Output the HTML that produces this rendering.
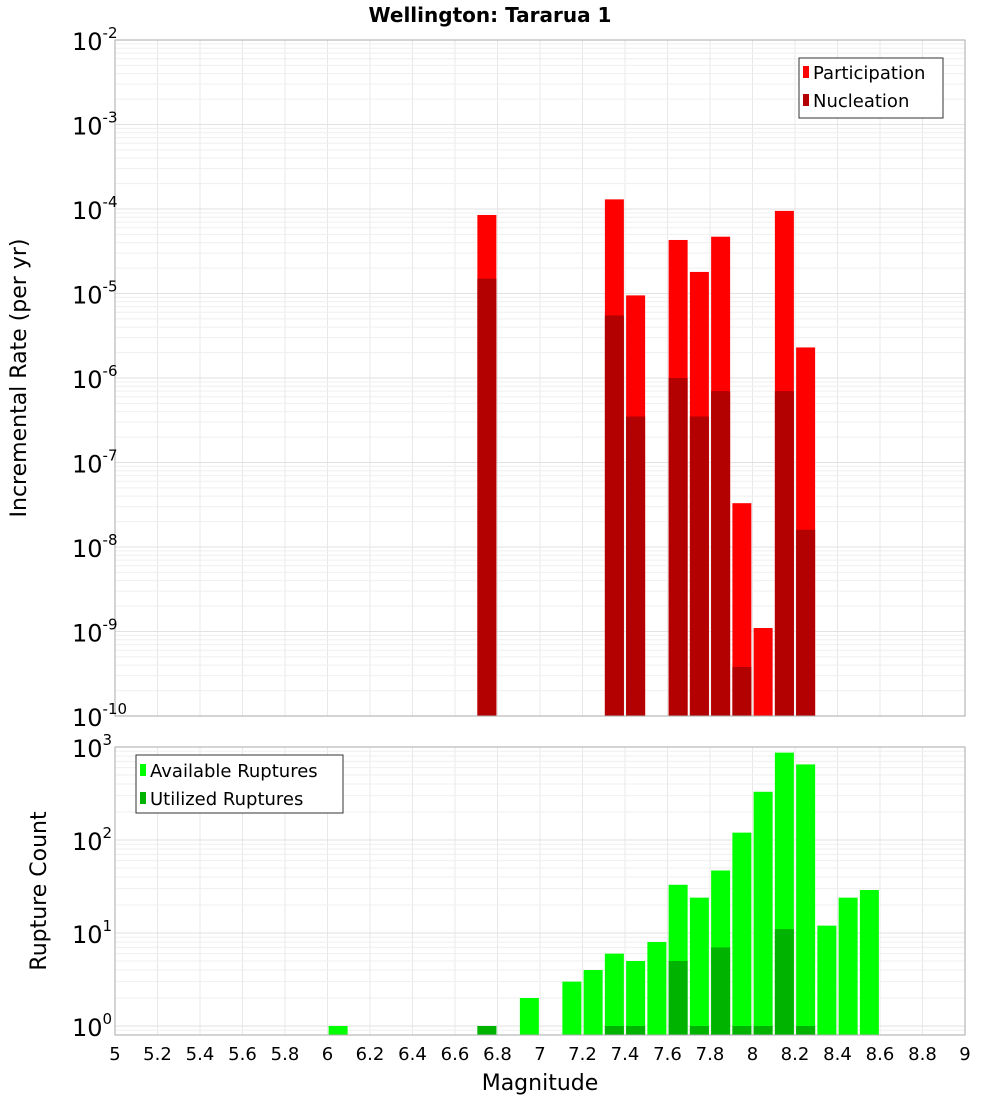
<!DOCTYPE html>
<html><head><meta charset="utf-8"><style>
body{margin:0;background:#fff;font-family:"Liberation Sans","DejaVu Sans",sans-serif}
svg text{font-family:"DejaVu Sans","Liberation Sans",sans-serif}
</style></head><body>
<svg id="c" width="1000" height="1100" xmlns="http://www.w3.org/2000/svg">
<rect width="1000" height="1100" fill="#fff"/>
<text x="490" y="22" font-size="20" font-weight="bold" text-anchor="middle">Wellington: Tararua 1</text>
<g id="top"></g><g id="bot"></g>
</svg>
<script>
const mags=[6.75,7.35,7.45,7.65,7.75,7.85,7.95,8.05,8.15,8.25];
const participation=[8.5e-5,1.3e-4,9.5e-6,4.3e-5,1.8e-5,4.7e-5,3.3e-8,1.1e-9,9.5e-5,2.3e-6];
const nucleation=[1.5e-5,5.5e-6,3.5e-7,1e-6,3.5e-7,7e-7,3.8e-10,0,7e-7,1.6e-8];
const availMags=[6.05,6.75,6.95,7.15,7.25,7.35,7.45,7.55,7.65,7.75,7.85,7.95,8.05,8.15,8.25,8.35,8.45,8.55];
const available=[1,1,2,3,4,6,5,8,33,24,47,120,330,870,650,12,24,29];
const utilMags=[6.75,7.35,7.45,7.65,7.75,7.85,7.95,8.05,8.15,8.25];
const utilized=[1,1,1,5,1,7,1,1,11,1];
const xTicks=[5,5.2,5.4,5.6,5.8,6,6.2,6.4,6.6,6.8,7,7.2,7.4,7.6,7.8,8,8.2,8.4,8.6,8.8,9];

const NS="http://www.w3.org/2000/svg";
const L=115,R=965;
const X=m=>L+(m-5)/4*(R-L);
function el(p,t,a){const e=document.createElementNS(NS,t);for(const k in a)e.setAttribute(k,a[k]);p.appendChild(e);return e;}
const svg=document.getElementById('c');

function panel(g,T,B,yTop,yBot,ytopVal){ // yTop,yBot: log10 at top/bottom of axis mapping
  const Y=v=>T+(yTop-Math.log10(v))/(yTop-yBot)*(B-T);
  // grid
  for(const t of xTicks){const gl=el(g,'line',{x1:X(t),x2:X(t),y1:T,y2:B,stroke:'#e8e8e8'});
  }
  for(let d=Math.floor(yBot)-1;d<=yTop;d++){for(let k=1;k<10;k++){const v=k*Math.pow(10,d);const y=Y(v);if(y<T-0.5||y>B+0.5)continue;
    const gl=el(g,'line',{x1:L,x2:R,y1:y,y2:y,stroke:k==1?'#e2e2e2':'#efefef'});
    }}
  return Y;
}
// top
const gt=document.getElementById('top');
const T1=40,B1=716;
const Yt=panel(gt,T1,B1,-2,-10);
mags.forEach((m,i)=>{
  const b=el(gt,'rect',{x:X(m)-9.5,y:Yt(participation[i]),width:19,height:B1-Yt(participation[i]),fill:'#ff0000'});
  
  if(nucleation[i]>0){const n=el(gt,'rect',{x:X(m)-9.5,y:Yt(nucleation[i]),width:19,height:B1-Yt(nucleation[i]),fill:'#b30000'});
  }
});
el(gt,'rect',{x:L,y:T1,width:R-L,height:B1-T1,fill:'none',stroke:'#aaa'});
for(let d=-2;d>=-10;d--){const y=Yt(Math.pow(10,d));
  const t=el(gt,'text',{x:72,y:y+10,'font-size':24});t.innerHTML='10<tspan dy="-12" font-size="15">'+d+'</tspan>';
  }
const yt=el(gt,'text',{x:26,y:378,'font-size':22,'text-anchor':'middle',transform:'rotate(-90 26 378)'});yt.textContent='Incremental Rate (per yr)';

const lg=el(gt,'g',{});
el(lg,'rect',{x:799,y:58,width:144,height:60,fill:'#fff',stroke:'#333'});
el(lg,'rect',{x:803,y:66,width:6,height:12,fill:'#ff0000'});
el(lg,'rect',{x:803,y:94,width:6,height:12,fill:'#b30000'});
let tx=el(lg,'text',{x:813,y:79,'font-size':18});tx.textContent='Participation';
tx=el(lg,'text',{x:813,y:107,'font-size':18});tx.textContent='Nucleation';

// bottom
const gb=document.getElementById('bot');
const T2=747,B2=1035;
const yb0=1026,dec=(yb0-T2)/3;
const botTopLog=3, botBotLog=-(B2-yb0)/dec;
const Yb=panel(gb,T2,B2,botTopLog,botBotLog);
availMags.forEach((m,i)=>{const b=el(gb,'rect',{x:X(m)-9.5,y:Yb(available[i]),width:19,height:B2-Yb(available[i]),fill:'#00ff00'});
  });
utilMags.forEach((m,i)=>{const b=el(gb,'rect',{x:X(m)-9.5,y:Yb(utilized[i]),width:19,height:B2-Yb(utilized[i]),fill:'#00b300'});
  });
el(gb,'rect',{x:L,y:T2,width:R-L,height:B2-T2,fill:'none',stroke:'#aaa'});
for(let d=3;d>=0;d--){const y=Yb(Math.pow(10,d));
  const t=el(gb,'text',{x:72,y:y+10,'font-size':24});t.innerHTML='10<tspan dy="-12" font-size="15">'+d+'</tspan>';
  }
const yb=el(gb,'text',{x:46,y:891,'font-size':22,'text-anchor':'middle',transform:'rotate(-90 46 891)'});yb.textContent='Rupture Count';

for(const t of xTicks){const x=el(gb,'text',{x:X(t),y:1060,'font-size':18,'text-anchor':'middle'});x.textContent=String(t);
  }
const xt=el(gb,'text',{x:540,y:1090,'font-size':22,'text-anchor':'middle'});xt.textContent='Magnitude';

const lb=el(gb,'g',{});
el(lb,'rect',{x:136,y:755,width:207,height:58,fill:'#fff',stroke:'#333'});
el(lb,'rect',{x:140,y:764,width:6,height:12,fill:'#00ff00'});
el(lb,'rect',{x:140,y:792,width:6,height:12,fill:'#00b300'});
tx=el(lb,'text',{x:150,y:777,'font-size':18});tx.textContent='Available Ruptures';
tx=el(lb,'text',{x:150,y:805,'font-size':18});tx.textContent='Utilized Ruptures';
</script>
</body></html>
